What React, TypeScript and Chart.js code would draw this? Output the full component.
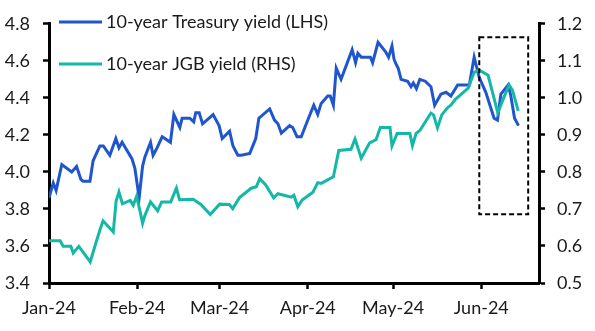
import React, { useEffect, useRef } from 'react';
import { Chart, registerables } from 'chart.js';

Chart.register(...registerables);

// Day index counted from 1 Jan 2024
const tickDays = [0, 31, 60, 91, 121, 152];
const tickLabels = ['Jan-24', 'Feb-24', 'Mar-24', 'Apr-24', 'May-24', 'Jun-24'];
const xMaxDay = 172.3;

const seriesLabels = ['10-year Treasury yield (LHS)', '10-year JGB yield (RHS)'];

const ustDays = [
  0, 1.5, 2.5, 4.5, 8.0, 9.7, 11.2, 12.0, 14.4, 15.5, 17.9, 19.1, 21.4, 23.5, 24.6, 25.7,
  29.2, 30.2, 31.7, 32.9, 33.7, 35.7, 36.6, 38.0, 39.8, 42.7, 43.9, 46.0, 46.8, 49.5, 50.9,
  51.6, 52.8, 54.0, 57.7, 59.8, 60.9, 63.5, 64.7, 66.4, 67.6, 70.6, 72.7, 73.8, 77.6, 79.3,
  80.5, 81.7, 84.6, 85.7, 87.2, 88.7, 91.0, 93.1, 94.5, 95.7, 98.0, 98.9, 100.0, 101.0,
  102.7, 106.6, 107.8, 108.6, 109.8, 113.0, 113.8, 115.7, 118.3, 119.4, 120.6, 121.3,
  121.8, 122.8, 123.8, 126.1, 127.3, 128.1, 129.2, 130.4, 132.3, 134.3, 135.6, 137.8,
  139.6, 141.3, 143.7, 147.8, 149.5, 151.3, 153.6, 156.5, 157.7, 158.9, 161.5, 162.4,
  163.7, 165.1,
];
const ustYield = [
  3.86, 3.94, 3.90, 4.04, 4.00, 4.03, 3.96, 3.95, 3.95, 4.06, 4.14, 4.14, 4.09, 4.18, 4.13, 4.16,
  4.07, 4.02, 3.86, 4.03, 4.08, 4.16, 4.09, 4.13, 4.19, 4.16, 4.31, 4.24, 4.29, 4.29, 4.27,
  4.32, 4.32, 4.26, 4.31, 4.25, 4.18, 4.22, 4.14, 4.09, 4.09, 4.10, 4.18, 4.29, 4.34, 4.28,
  4.26, 4.21, 4.25, 4.24, 4.19, 4.19, 4.28, 4.36, 4.31, 4.37, 4.41, 4.41, 4.36, 4.56,
  4.50, 4.66, 4.59, 4.64, 4.62, 4.62, 4.59, 4.70, 4.65, 4.62, 4.68, 4.61,
  4.59, 4.56, 4.50, 4.49, 4.46, 4.48, 4.45, 4.50, 4.49, 4.46, 4.36, 4.42,
  4.43, 4.41, 4.47, 4.47, 4.62, 4.51, 4.43, 4.29, 4.28, 4.42, 4.47, 4.41,
  4.29, 4.25,
];

const jgbDays = [
  0, 3.9, 5.0, 7.7, 8.5, 10.5, 14.5, 16.4, 17.9, 19.0, 22.6, 23.6, 24.6, 25.8, 28.6, 29.6,
  30.8, 32.1, 32.9, 33.7, 35.7, 38.2, 39.6, 42.8, 44.8, 45.9, 50.7, 53.4, 56.7, 60.0, 63.4,
  64.6, 67.0, 71.1, 72.9, 74.1, 76.2, 79.0, 80.5, 85.2, 86.1, 87.5, 89.0, 92.8, 94.5, 95.7,
  100.0, 101.9, 106.2, 107.6, 109.8, 112.7, 115.0, 116.5, 119.9, 120.6, 122.4, 126.9, 127.8,
  129.1, 130.4, 134.3, 135.2, 136.6, 138.1, 140.2, 141.3, 142.9, 147.4, 149.5, 151.3, 154.4,
  157.8, 160.1, 161.8, 163.0, 165.0,
];
const jgbYield = [
  0.614, 0.614, 0.599, 0.599, 0.581, 0.599, 0.557, 0.606, 0.643, 0.668, 0.638, 0.721, 0.746,
  0.714, 0.723, 0.710, 0.734, 0.691, 0.661, 0.682, 0.719, 0.695, 0.719, 0.719, 0.756, 0.725,
  0.726, 0.712, 0.685, 0.713, 0.712, 0.701, 0.731, 0.756, 0.760, 0.782, 0.765, 0.730, 0.741,
  0.732, 0.737, 0.706, 0.724, 0.745, 0.771, 0.769, 0.787, 0.858, 0.861, 0.889, 0.837, 0.878,
  0.887, 0.920, 0.920, 0.870, 0.904, 0.904, 0.871, 0.904, 0.912, 0.959, 0.954, 0.919, 0.954,
  0.974, 0.980, 0.996, 1.026, 1.069, 1.075, 1.061, 0.960, 1.004, 1.035, 1.020, 0.965,
];

// Dashed highlight box: day range and left-axis value range
const boxDays = [151.3, 168.5];
const boxValues = [4.727, 3.771];

const BLUE = '#1f56ce';
const TEAL = '#14b8a6';
const TEXT = '#1a1a1a';
const FONT = 'Lato';

const boxPlugin = {
  id: 'boxPlugin',
  afterDatasetsDraw(chart: any) {
    const { ctx, scales } = chart;
    const x0 = scales.x.getPixelForValue(boxDays[0]);
    const x1 = scales.x.getPixelForValue(boxDays[1]);
    const y0 = scales.y.getPixelForValue(boxValues[0]);
    const y1 = scales.y.getPixelForValue(boxValues[1]);
    ctx.save();
    ctx.strokeStyle = '#000';
    ctx.lineWidth = 2;
    ctx.setLineDash([5, 3]);
    ctx.strokeRect(x0, y0, x1 - x0, y1 - y0);
    ctx.restore();
  },
};

const legendPlugin = {
  id: 'legendPlugin',
  afterDraw(chart: any) {
    const { ctx } = chart;
    const rows = [22, 64];
    ctx.save();
    chart.data.datasets.forEach((ds: any) => {
      const y = rows[ds.legendIndex];
      ctx.strokeStyle = ds.borderColor;
      ctx.lineWidth = 3;
      ctx.beginPath();
      ctx.moveTo(59, y);
      ctx.lineTo(102, y);
      ctx.stroke();
      ctx.fillStyle = TEXT;
      ctx.font = `18px ${FONT}`;
      ctx.textBaseline = 'middle';
      ctx.textAlign = 'left';
      ctx.fillText(ds.label, 106, y);
    });
    ctx.restore();
  },
};

export default function App() {
  const ref = useRef<HTMLCanvasElement>(null);
  useEffect(() => {
    document.body.style.margin = '0';
    const canvas = ref.current;
    if (!canvas) return;
    const ustData = ustDays.map((d, i) => ({ x: d, y: ustYield[i] }));
    const jgbData = jgbDays.map((d, i) => ({ x: d, y: jgbYield[i] }));
    const axisGrid = {
      drawOnChartArea: false,
      drawTicks: true,
      tickLength: 6,
      tickWidth: 2.5,
      tickColor: '#000',
    };
    const axisBorder = { display: true, color: '#000', width: 3 };
    const tickFont = { family: FONT, size: 18 };
    const chart = new Chart(canvas, {
      type: 'line',
      data: {
        datasets: [
          {
            label: seriesLabels[1],
            data: jgbData,
            borderColor: TEAL,
            backgroundColor: TEAL,
            borderWidth: 3,
            pointRadius: 0,
            yAxisID: 'y1',
            order: 0,
            legendIndex: 1,
          } as any,
          {
            label: seriesLabels[0],
            data: ustData,
            borderColor: BLUE,
            backgroundColor: BLUE,
            borderWidth: 3,
            pointRadius: 0,
            yAxisID: 'y',
            order: 1,
            legendIndex: 0,
          } as any,
        ],
      },
      options: {
        animation: false,
        responsive: false,
        devicePixelRatio: 1,
        layout: { padding: { top: 15, left: 0, right: 0, bottom: 0 } },
        plugins: { legend: { display: false }, tooltip: { enabled: false } },
        scales: {
          x: {
            type: 'linear',
            min: 0,
            max: xMaxDay,
            grid: axisGrid,
            border: axisBorder,
            afterBuildTicks: (scale: any) => {
              scale.ticks = tickDays.map((v) => ({ value: v }));
            },
            afterFit: (scale: any) => {
              scale.height = 48;
            },
            ticks: {
              autoSkip: false,
              maxRotation: 0,
              padding: 8,
              color: TEXT,
              font: tickFont,
              callback: (v: any) => {
                const i = tickDays.indexOf(Number(v));
                return i >= 0 ? tickLabels[i] : '';
              },
            },
          },
          y: {
            type: 'linear',
            position: 'left',
            min: 3.4,
            max: 4.8,
            grid: axisGrid,
            border: axisBorder,
            afterFit: (scale: any) => {
              scale.width = 49;
            },
            ticks: {
              stepSize: 0.2,
              padding: 13,
              color: TEXT,
              font: tickFont,
              callback: (v: any) => Number(v).toFixed(1),
            },
          },
          y1: {
            type: 'linear',
            position: 'right',
            min: 0.5,
            max: 1.2,
            grid: axisGrid,
            border: axisBorder,
            afterFit: (scale: any) => {
              scale.width = 56;
            },
            ticks: {
              stepSize: 0.1,
              padding: 12,
              color: TEXT,
              font: tickFont,
              callback: (v: any) => Number(v).toFixed(1),
            },
          },
        },
      },
      plugins: [boxPlugin, legendPlugin],
    });
    return () => chart.destroy();
  }, []);
  return (
    <div style={{ width: 595, height: 331 }}>
      <canvas ref={ref} width={595} height={331} style={{ display: 'block' }} />
    </div>
  );
}
